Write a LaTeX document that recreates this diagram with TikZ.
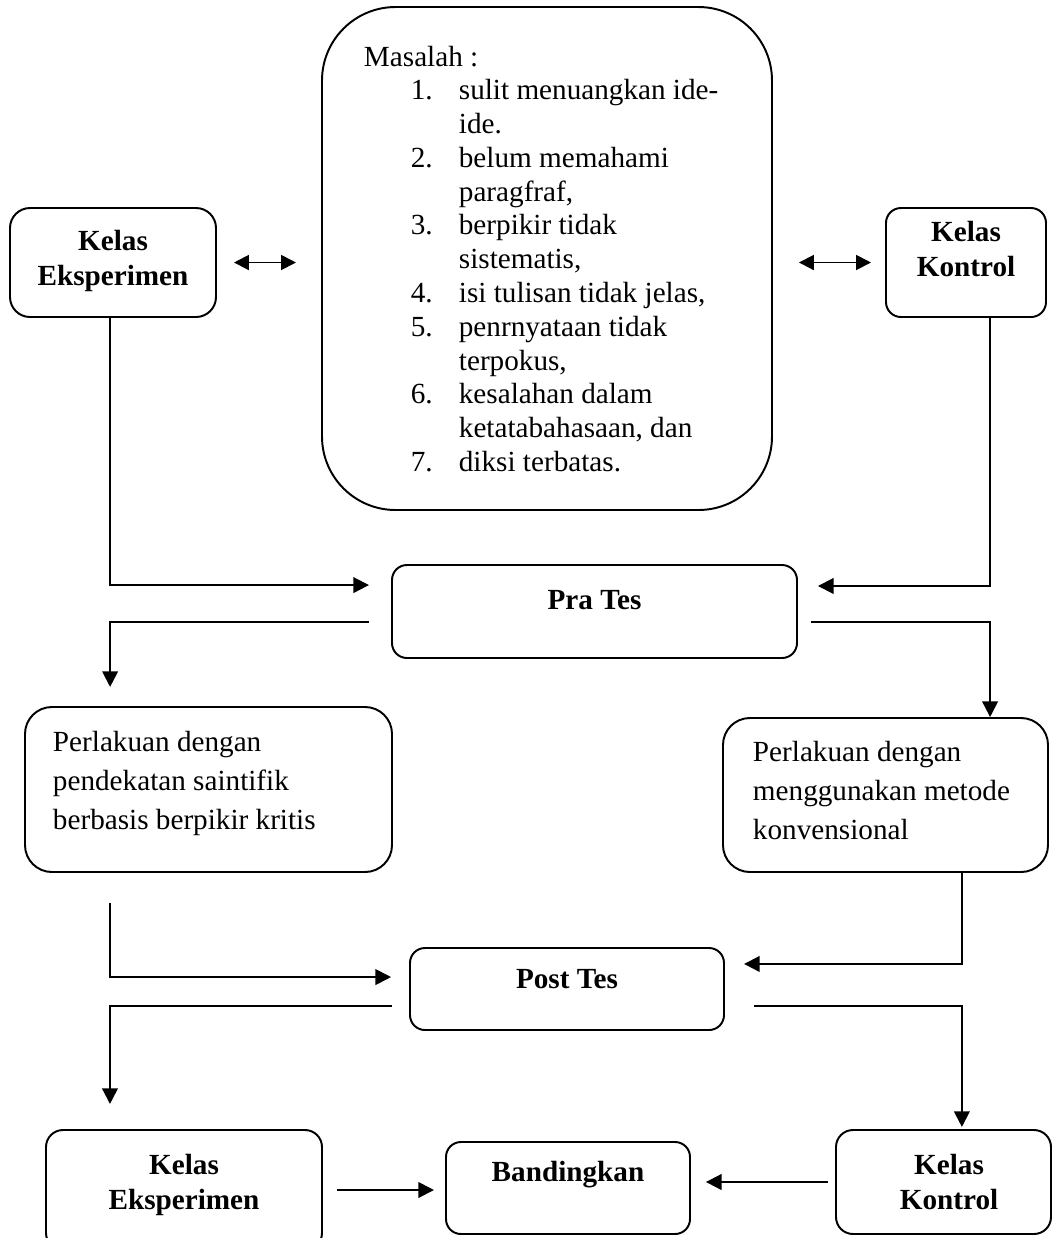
\documentclass[tikz,border=0pt]{standalone}
\usepackage{fontspec}
\setmainfont{Liberation Serif}
\usetikzlibrary{arrows.meta}

\begin{document}
\begin{tikzpicture}[x=0.435pt, y=-0.435pt, line width=0.85pt,
  box/.style={draw, rounded corners=#1, inner sep=0pt},
  wh/.style 2 args={minimum width=#1*0.435pt, minimum height=#2*0.435pt},
  txt/.style={font=\fontsize{12.7}{15}\selectfont\bfseries, align=center, inner sep=0pt},
  body/.style={font=\fontsize{12.7}{17}\selectfont, inner sep=0pt, anchor=base west},
  arr/.style={-{Triangle[length=6.8pt,width=6.8pt]}},
  dbl/.style={{Triangle[length=6.5pt,width=6.5pt]}-{Triangle[length=6.5pt,width=6.5pt]}}]
\useasboundingbox (0,0) rectangle (1052,1238);
\clip (0,0) rectangle (1052,1238);

\node[box=8.7pt, wh={206}{109}] (ke) at (113,262.5) {};
\node[txt] (ket) at (113,261) {Kelas\\Eksperimen};
\node[box=32pt, wh={450}{503}] (masalah) at (547,258.5) {};
\node[anchor=base west, inner sep=0pt, font=\fontsize{12.7}{14.7}\selectfont] (masalaht) at (363,66)
  {\begin{tabular}[t]{@{\hspace{20.4pt}}p{20.9pt}@{}l@{}}
  \multicolumn{2}{@{}l@{}}{Masalah :}\\
  1. & sulit menuangkan ide-\\
     & ide.\\
  2. & belum memahami\\
     & paragfraf,\\
  3. & berpikir tidak\\
     & sistematis,\\
  4. & isi tulisan tidak jelas,\\
  5. & penrnyataan tidak\\
     & terpokus,\\
  6. & kesalahan dalam\\
     & ketatabahasaan, dan\\
  7. & diksi terbatas.
  \end{tabular}};
\node[box=6.5pt, wh={160}{109}] (kk) at (966,262.5) {};
\node[txt] (kkt) at (966,249) {Kelas\\Kontrol};

\node[box=6.5pt, wh={405}{93}] (pra) at (594.5,611.5) {};
\node[txt] (prat) at (594.5,600) {Pra Tes};

\node[box=11.7pt, wh={367}{165}] (p1) at (208.5,789.5) {};
\node[body] (p1t) at (52,751)
  {\begin{tabular}[t]{@{}l@{}}Perlakuan dengan\\pendekatan saintifik\\berbasis berpikir kritis\end{tabular}};
\node[box=11.7pt, wh={325}{154}] (p2) at (885.5,795) {};
\node[body] (p2t) at (752,761)
  {\begin{tabular}[t]{@{}l@{}}Perlakuan dengan\\menggunakan metode\\konvensional\end{tabular}};

\node[box=6.5pt, wh={314}{82}] (post) at (567,989) {};
\node[txt] (postt) at (567,979) {Post Tes};

\node[box=7.4pt, wh={276}{120}] (bke) at (184,1190) {};
\node[txt] (bket) at (184,1185) {Kelas\\Eksperimen};
\node[box=6.5pt, wh={244}{92}] (band) at (568,1188) {};
\node[txt] (bandt) at (568,1175) {Bandingkan};
\node[box=7.4pt, wh={215}{104}] (bkk) at (943.5,1182) {};
\node[txt] (bkkt) at (949,1182) {Kelas\\Kontrol};

\draw[dbl, shorten <=7.4pt, shorten >=10.9pt] (ke.east) -- (ke.east -| masalah.west);
\draw[dbl, shorten <=11.3pt, shorten >=6.1pt] (kk.west -| masalah.east) -- (kk.west);

\draw[arr, shorten >=9.6pt] ([xshift=-1.3pt]ke.south) |- ([yshift=11.5pt]pra.west);
\draw[arr, shorten >=8.7pt] ([xshift=10.4pt]kk.south) |- ([yshift=11.1pt]pra.east);
\draw[arr, shorten <=9.6pt, shorten >=8.3pt] ([yshift=-4.6pt]pra.west) -| ([xshift=-42.8pt]p1.north);
\draw[arr, shorten <=5.7pt] ([yshift=-4.6pt]pra.east) -| ([xshift=45.5pt]p2.north);

\draw[arr, shorten <=13pt, shorten >=7.8pt] ([xshift=-42.8pt]p1.south) |- ([yshift=5.2pt]post.west);
\draw[arr, shorten >=8.3pt] ([xshift=33.3pt]p2.south) |- ([yshift=10.9pt]post.east);
\draw[arr, shorten <=7.4pt, shorten >=10.9pt] ([yshift=-7.4pt]post.west) -| ([xshift=-32.2pt]bke.north);
\draw[arr, shorten <=12.6pt, shorten >=0.9pt] ([yshift=-7.4pt]post.east) -| ([xshift=8pt]bkk.north);

\draw[arr, shorten <=6.1pt, shorten >=4.8pt] (bke.east) -- (bke.east -| band.west);
\draw[arr, shorten <=3pt, shorten >=6.5pt] (bkk.west) -- (bkk.west -| band.east);
\end{tikzpicture}
\end{document}
